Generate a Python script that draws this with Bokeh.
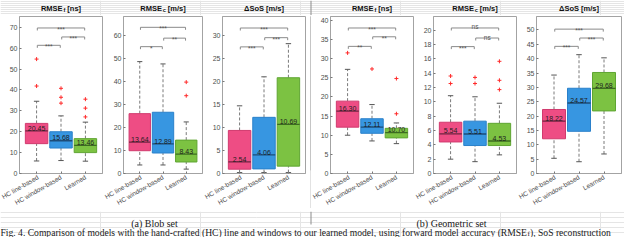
import math
from bokeh.plotting import figure
from bokeh.layouts import row, column
from bokeh.models import Range1d, FixedTicker, Label, BoxAnnotation, ColumnDataSource
from bokeh.core.properties import value
from bokeh.embed import file_html
from bokeh.resources import INLINE

# ---------------- data ----------------
categories = ["HC line-based", "HC window-based", "Learned"]
fill_colors = ["#EE4D84", "#3796E1", "#7CC242"]
edge_colors = ["#D13A6E", "#2A80CA", "#5FA532"]
median_colors = ["#6E2540", "#1D4C78", "#3C6B20"]
sig_pairs = [(0, 1), (1, 2), (0, 2)]

# (a) Blob set - RMSE_f [ns]
blob_f_low = [6.0, 6.2, 5.9]
blob_f_q1 = [14.3, 12.2, 10.0]
blob_f_med = [20.45, 15.68, 13.46]
blob_f_q3 = [24.0, 20.0, 16.7]
blob_f_high = [34.6, 27.6, 24.6]
blob_f_out = [[54.8, 41.9], [40.8, 36.5, 33.7], [35.6, 31.3, 27.1]]
blob_f_sig_y = [61.4, 65.4, 69.7]
blob_f_sig = ["***", "***", "***"]
blob_f_ymax = 75.2
blob_f_ticks = [0, 10, 20, 30, 40, 50, 60, 70]

# (a) Blob set - RMSE_c [m/s]
blob_c_low = [3.7, 3.7, 1.9]
blob_c_q1 = [9.9, 8.9, 5.0]
blob_c_med = [13.64, 12.89, 8.43]
blob_c_q3 = [26.0, 26.6, 14.5]
blob_c_high = [48.6, 47.6, 22.4]
blob_c_out = [[], [], [39.7, 33.8]]
blob_c_sig_y = [55.1, 58.8, 63.5]
blob_c_sig = ["*", "**", "***"]
blob_c_ymax = 68.2
blob_c_ticks = [0, 10, 20, 30, 40, 50, 60]

# (a) Blob set - dSoS [m/s]
blob_s_low = [0.2, 0.2, 0.2]
blob_s_q1 = [0.94, 1.0, 1.6]
blob_s_med = [2.54, 4.06, 10.69]
blob_s_q3 = [9.35, 12.2, 20.8]
blob_s_high = [14.7, 21.0, 28.2]
blob_s_out = [[], [], []]
blob_s_sig_y = [27.5, 29.5, 31.6]
blob_s_sig = ["***", "***", "***"]
blob_s_ymax = 34.1
blob_s_ticks = [0, 5, 10, 15, 20, 25, 30]

# (b) Geometric set - RMSE_f [ns]
geo_f_low = [10.0, 8.5, 7.8]
geo_f_q1 = [12.1, 10.5, 9.3]
geo_f_med = [16.30, 12.11, 10.70]
geo_f_q3 = [18.9, 14.3, 11.8]
geo_f_high = [27.2, 18.0, 13.2]
geo_f_out = [[31.5], [27.3], [24.8, 15.6]]
geo_f_sig_y = [33.2, 35.7, 38.0]
geo_f_sig = ["**", "**", "***"]
geo_f_ymax = 41.0
geo_f_ticks = [0, 5, 10, 15, 20, 25, 30, 35, 40]

# (b) Geometric set - RMSE_c [m/s]
geo_c_low = [2.0, 1.65, 2.6]
geo_c_q1 = [4.4, 3.9, 3.9]
geo_c_med = [5.54, 5.51, 4.53]
geo_c_q3 = [7.15, 7.3, 7.0]
geo_c_high = [10.85, 10.7, 9.8]
geo_c_out = [[13.6, 12.55], [13.4, 12.55], [15.65, 13.0, 11.7]]
geo_c_sig_y = [17.7, 18.9, 20.3]
geo_c_sig = ["***", "ns", "ns"]
geo_c_ymax = 21.9
geo_c_ticks = [0, 2, 4, 6, 8, 10, 12, 14, 16, 18, 20]

# (b) Geometric set - dSoS [m/s]
geo_s_low = [5.3, 4.1, 6.8]
geo_s_q1 = [12.1, 14.7, 21.8]
geo_s_med = [18.22, 24.57, 29.68]
geo_s_q3 = [22.3, 29.7, 35.2]
geo_s_high = [34.3, 41.4, 40.3]
geo_s_out = [[], [], []]
geo_s_sig_y = [44.3, 47.2, 50.3]
geo_s_sig = ["***", "***", "***"]
geo_s_ymax = 54.7
geo_s_ticks = [0, 5, 10, 15, 20, 25, 30, 35, 40, 45, 50]

panel_titles = [("RMSE", "f", "[ns]"), ("RMSE", "c", "[m/s]"), ("\u0394SoS [m/s]", None, None),
                ("RMSE", "f", "[ns]"), ("RMSE", "c", "[m/s]"), ("\u0394SoS [m/s]", None, None)]
sub_captions = ["(a) Blob set", "(b) Geometric set"]
caption_parts = ["Fig. 4. Comparison of models with the hand-crafted (HC) line and windows to our learned model,",
                 "using forward model accuracy (RMSE", "f", "), SoS reconstruction"]

# ---------------- style / layout ----------------
FONT = "Liberation Sans"
SERIF = "Liberation Serif"
FH = 157
MBT = 1
MBB = 35
AX = "#a3a3a3"
TICKC = "#4d4d4d"
DIVC = "#8c8c8c"
TOTAL_W = 624
HEAD_H = 15
CAP_H = 26
# (min_border_left, frame_width, min_border_right) per panel; divider after 3rd
panel_geom = [(19, 83, 1), (20, 79, 1), (19, 83, 5), (19, 83, 1), (19, 83, 1), (19, 85, 2)]
DIV_W = 1

ARIAL_B = {'R': 722, 'M': 833, 'S': 667, 'E': 667, ' ': 278, '[': 333, ']': 333, 'n': 611,
           's': 556, 'm': 889, '/': 278, 'f': 333, 'c': 556}
TIMES = {' ': 250, 'F': 556, 'i': 278, 'g': 500, '.': 250, '4': 500, 'C': 667, 'o': 500, 'm': 778,
         'p': 500, 'a': 444, 'r': 333, 's': 389, 'n': 500, 'f': 333, 'd': 500, 'e': 444, 'l': 278,
         'w': 722, 't': 278, 'h': 500, '-': 333, 'c': 444, '(': 333, 'H': 722, ')': 333, 'u': 500,
         ',': 250, 'y': 500, 'R': 667, 'M': 889, 'S': 556, 'E': 611, 'k': 500, 'b': 500, 'v': 500}


def tw(s, table, size):
    return sum(table.get(ch, 500) for ch in s) * size / 1000.0


def add_title(fig, cx, cy, main, sub=None, rest=None):
    size, ssize = 7.5, 5.5
    common = dict(text_baseline="middle", text_font=FONT, text_font_style="bold",
                  text_color="#111111")
    if sub is None:
        fig.add_layout(Label(x=cx, y=cy, text=main, text_align="center",
                             text_font_size=f"{size}px", **common))
        return
    w1 = tw(main, ARIAL_B, size)
    w2 = tw(sub, ARIAL_B, ssize)
    w3 = tw(" " + rest, ARIAL_B, size)
    gap = 0.8
    total = w1 + gap + w2 + w3
    x0 = cx - total / 2
    fig.add_layout(Label(x=x0, y=cy, text=main, text_align="left", text_font_size=f"{size}px", **common))
    fig.add_layout(Label(x=x0 + w1 + gap, y=cy - 2.2, text=sub, text_align="left",
                         text_font_size=f"{ssize}px", **common))
    fig.add_layout(Label(x=x0 + w1 + gap + w2 + tw(" ", ARIAL_B, size), y=cy, text=rest,
                         text_align="left", text_font_size=f"{size}px", **common))


def make_panel(geom, ymax, yticks, low, q1, med, q3, high, outs, sig_y, sig_txt):
    mbl, fw, mbr = geom
    p = figure(frame_width=fw, frame_height=FH, min_border_left=mbl, min_border_right=mbr,
               min_border_top=MBT, min_border_bottom=MBB, toolbar_location=None,
               output_backend="svg", x_range=Range1d(0.3, 3.7), y_range=Range1d(0, ymax))
    p.title.visible = False
    p.xgrid.visible = False
    p.ygrid.visible = False
    p.outline_line_color = AX
    p.background_fill_color = "white"
    p.border_fill_color = "white"

    pos = list(range(1, len(categories) + 1))
    src = ColumnDataSource(dict(x=pos, low=low, q1=q1, med=med, q3=q3, high=high,
                                fill=fill_colors, edge=edge_colors, mc=median_colors,
                                lab=[f"{m:.2f}" for m in med]))
    capw = 0.11
    half = 0.46
    # whiskers
    p.segment(x0="x", x1="x", y0="q3", y1="high", source=src, line_color="#7a7a7a",
              line_dash="3 2", line_width=1)
    p.segment(x0="x", x1="x", y0="low", y1="q1", source=src, line_color="#7a7a7a",
              line_dash="3 2", line_width=1)
    p.segment(x0=[x - capw for x in pos], x1=[x + capw for x in pos], y0=high, y1=high,
              line_color="#555555", line_width=1)
    p.segment(x0=[x - capw for x in pos], x1=[x + capw for x in pos], y0=low, y1=low,
              line_color="#555555", line_width=1)
    # boxes
    p.vbar(x="x", width=2 * half, bottom="q1", top="q3", fill_color="fill", line_color="edge",
           line_width=1, source=src)
    p.segment(x0=[x - half for x in pos], x1=[x + half for x in pos], y0=med, y1=med,
              line_color=median_colors, line_width=1.3)
    p.text(x="x", y="med", text="lab", source=src, text_align="center", text_baseline="bottom",
           y_offset=-0.3, text_font=value(FONT), text_font_size="7px", text_color="#1e1e1e")
    # outliers
    ox = [pos[i] for i, o in enumerate(outs) for _ in o]
    oy = [v for o in outs for v in o]
    if ox:
        p.scatter(ox, oy, marker="cross", size=4, line_color="#FF2A2A", line_width=1)
    # significance brackets
    drop = 2.5 * ymax / FH
    xs, ys = [], []
    for (i, j), y in zip(sig_pairs, sig_y):
        a, b = pos[i] + 0.03, pos[j] - 0.03
        xs.append([a, a, b, b])
        ys.append([y - drop, y, y, y - drop])
    p.multi_line(xs, ys, line_color="#8a8a8a", line_width=1)
    mids = [(pos[i] + pos[j]) / 2 for i, j in sig_pairs]
    offs = [-1.0 if t == "ns" else 1.5 for t in sig_txt]
    p.text(x=mids, y=sig_y, text=sig_txt, y_offset=offs, text_align="center",
           text_baseline="alphabetic", text_font=value(FONT), text_font_size="6.5px",
           text_color="#555555")

    # axes
    xa = p.xaxis[0]
    xa.ticker = FixedTicker(ticks=pos)
    xa.major_label_overrides = {k: c for k, c in zip(pos, categories)}
    xa.major_label_orientation = math.pi / 6
    xa.major_label_text_font = FONT
    xa.major_label_text_font_size = "6.5px"
    xa.major_label_text_color = TICKC
    xa.major_label_standoff = 3
    xa.major_tick_in = 2
    xa.major_tick_out = 0
    xa.minor_tick_in = 0
    xa.minor_tick_out = 0
    xa.axis_line_color = AX
    xa.major_tick_line_color = "#777777"

    ya = p.yaxis[0]
    ya.ticker = FixedTicker(ticks=yticks)
    ya.major_label_text_font = FONT
    ya.major_label_text_font_size = "7px"
    ya.major_label_text_color = TICKC
    ya.major_label_standoff = 2
    ya.major_tick_in = 2
    ya.major_tick_out = 0
    ya.minor_tick_in = 0
    ya.minor_tick_out = 0
    ya.axis_line_color = AX
    ya.major_tick_line_color = "#777777"
    return p


p1 = make_panel(panel_geom[0], blob_f_ymax, blob_f_ticks, blob_f_low, blob_f_q1, blob_f_med,
                blob_f_q3, blob_f_high, blob_f_out, blob_f_sig_y, blob_f_sig)
p2 = make_panel(panel_geom[1], blob_c_ymax, blob_c_ticks, blob_c_low, blob_c_q1, blob_c_med,
                blob_c_q3, blob_c_high, blob_c_out, blob_c_sig_y, blob_c_sig)
p3 = make_panel(panel_geom[2], blob_s_ymax, blob_s_ticks, blob_s_low, blob_s_q1, blob_s_med,
                blob_s_q3, blob_s_high, blob_s_out, blob_s_sig_y, blob_s_sig)
p4 = make_panel(panel_geom[3], geo_f_ymax, geo_f_ticks, geo_f_low, geo_f_q1, geo_f_med,
                geo_f_q3, geo_f_high, geo_f_out, geo_f_sig_y, geo_f_sig)
p5 = make_panel(panel_geom[4], geo_c_ymax, geo_c_ticks, geo_c_low, geo_c_q1, geo_c_med,
                geo_c_q3, geo_c_high, geo_c_out, geo_c_sig_y, geo_c_sig)
p6 = make_panel(panel_geom[5], geo_s_ymax, geo_s_ticks, geo_s_low, geo_s_q1, geo_s_med,
                geo_s_q3, geo_s_high, geo_s_out, geo_s_sig_y, geo_s_sig)

# frame centres in layout pixels (for the header titles)
centres = []
xcur = 0
for k, (mbl, fw, mbr) in enumerate(panel_geom):
    centres.append(xcur + mbl + fw / 2)
    xcur += mbl + fw + mbr
    if k == 2:
        DIV_X = xcur
        xcur += DIV_W

FIG_H = MBT + FH + MBB
divider = figure(width=DIV_W, height=FIG_H, min_border=0, toolbar_location=None,
                 output_backend="svg", x_axis_location=None, y_axis_location=None,
                 outline_line_color=None, background_fill_color=DIVC, border_fill_color=DIVC)
divider.title.visible = False


def strip_fig(h):
    f = figure(width=TOTAL_W, height=h, min_border=0, toolbar_location=None, output_backend="svg",
               x_range=Range1d(0, TOTAL_W), y_range=Range1d(0, h), x_axis_location=None,
               y_axis_location=None, outline_line_color=None)
    f.title.visible = False
    return f


head = strip_fig(HEAD_H)
head.add_layout(BoxAnnotation(left=DIV_X, right=DIV_X + DIV_W, bottom=0, top=HEAD_H,
                              fill_color=DIVC, fill_alpha=1.0, line_color=None))
for cx, t in zip(centres, panel_titles):
    add_title(head, cx, 7.5, *t)

cap = strip_fig(CAP_H)
cap.add_layout(BoxAnnotation(left=DIV_X, right=DIV_X + DIV_W, bottom=13, top=CAP_H,
                             fill_color=DIVC, fill_alpha=1.0, line_color=None))
for txt, cx in zip(sub_captions, [154, 451]):
    cap.add_layout(Label(x=cx, y=14.5, text=txt, text_align="center", text_baseline="alphabetic",
                         text_font=SERIF, text_font_size="10px", text_color="#1a1a1a"))
fs, sfs = 9.6, 7.0
cy = 5.0
common = dict(text_align="left", text_baseline="alphabetic", text_font=SERIF, text_color="#1a1a1a")
xc = 0.0
for k, part in enumerate(caption_parts):
    if part == "f":
        cap.add_layout(Label(x=xc + 0.3, y=cy - 1.2, text=part, text_font_size=f"{sfs}px", **common))
        xc += 0.6 + tw(part, TIMES, sfs)
    else:
        cap.add_layout(Label(x=xc, y=cy, text=part, text_font_size=f"{fs}px", **common))
        xc += tw(part, TIMES, fs)
        if part.endswith(","):
            xc += tw(" ", TIMES, fs)

layout = column(head, row(p1, p2, p3, divider, p4, p5, p6), cap)

open("out.html", "w").write(file_html(layout, INLINE))
